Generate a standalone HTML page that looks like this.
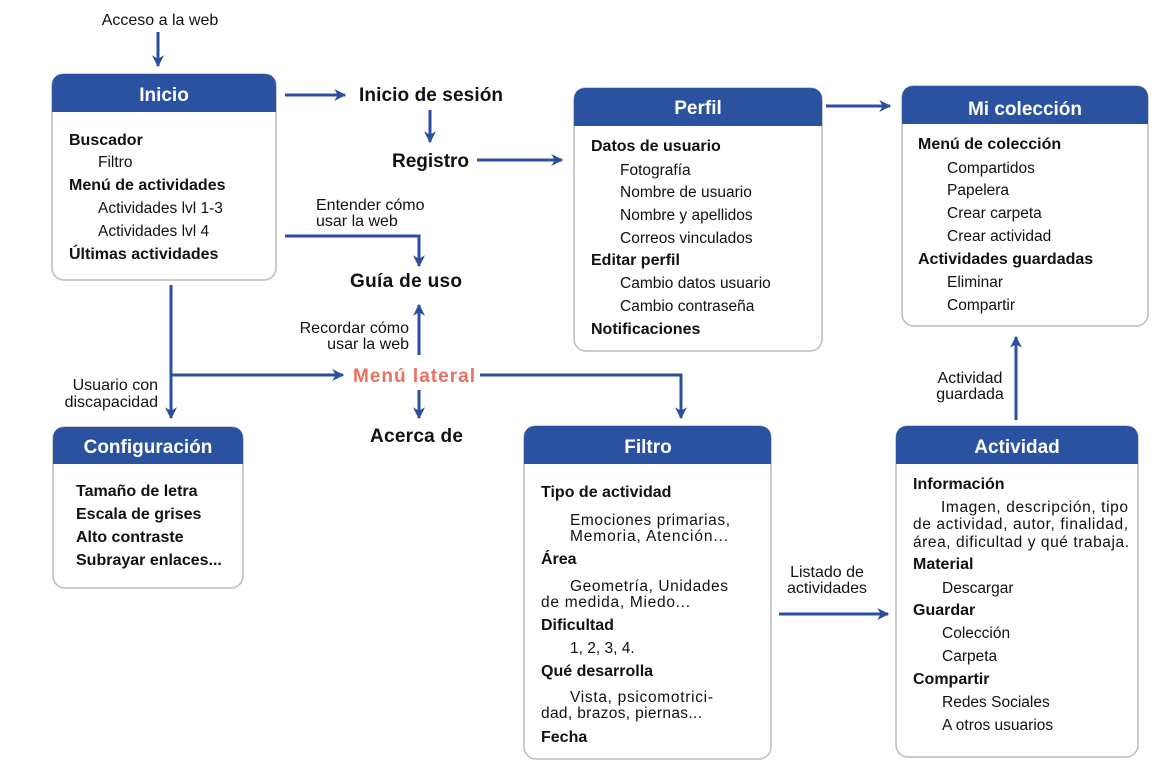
<!DOCTYPE html>
<html><head><meta charset="utf-8"><style>
html,body{margin:0;padding:0;background:#fff}
svg{display:block}
text{font-family:"Liberation Sans",sans-serif;fill:#111}
.b{font-weight:bold;font-size:16px}
.n{font-size:15.5px}
.s{font-size:16px}
.h{font-size:19px;font-weight:bold;fill:#fff}
.t{font-size:19px;font-weight:bold}
</style></head><body>
<svg width="1172" height="776" viewBox="0 0 1172 776" xmlns="http://www.w3.org/2000/svg">
<defs>
<marker id="a" viewBox="0 0 10 10" refX="9" refY="5" markerWidth="4" markerHeight="4" orient="auto"><path d="M0,0 L10,5 L0,10 L3,5 Z" fill="#2b4f9e"/></marker>
</defs>
<g fill="#fff" stroke="#bcbcbc" stroke-width="1.5">
<rect x="52" y="74" width="224" height="206" rx="12"/>
<rect x="574" y="88" width="248" height="263" rx="12"/>
<rect x="902" y="86" width="246" height="240" rx="12"/>
<rect x="53" y="427" width="190" height="161" rx="12"/>
<rect x="524" y="426" width="247" height="333" rx="12"/>
<rect x="896" y="426" width="242" height="331" rx="12"/>
</g>
<g fill="#2a52a0">
<path d="M52 86 Q52 74 64 74 H264 Q276 74 276 86 V112 H52Z"/>
<path d="M574 100 Q574 88 586 88 H810 Q822 88 822 100 V126 H574Z"/>
<path d="M902 98 Q902 86 914 86 H1136 Q1148 86 1148 98 V124 H902Z"/>
<path d="M53 439 Q53 427 65 427 H231 Q243 427 243 439 V464 H53Z"/>
<path d="M524 438 Q524 426 536 426 H759 Q771 426 771 438 V464 H524Z"/>
<path d="M896 438 Q896 426 908 426 H1126 Q1138 426 1138 438 V464 H896Z"/>
</g>
<g text-anchor="middle">
<text class="h" x="164" y="101">Inicio</text>
<text class="h" x="698" y="114">Perfil</text>
<text class="h" x="1025" y="115">Mi colección</text>
<text class="h" x="148" y="453">Configuración</text>
<text class="h" x="648" y="453">Filtro</text>
<text class="h" x="1017" y="453">Actividad</text>
</g>
<g stroke="#2b4f9e" stroke-width="3" fill="none" marker-end="url(#a)">
<path d="M158 32 V66"/>
<path d="M285 95 H345"/>
<path d="M430 110 V142"/>
<path d="M477 160 H562"/>
<path d="M826 106 H890"/>
<path d="M285 236 H419 V266"/>
<path d="M419 355 V305"/>
<path d="M419 390 V418"/>
<path d="M171 285 V418"/>
<path d="M171 375 H343"/>
<path d="M480 375 H681 V418"/>
<path d="M779 614 H888"/>
<path d="M1016 420 V337"/>
</g>
<text class="s" x="160" y="25" text-anchor="middle">Acceso a la web</text>
<text class="t" x="359" y="101" textLength="144">Inicio de sesión</text>
<text class="t" x="392" y="167" textLength="77">Registro</text>
<text class="s" x="316" y="210">Entender cómo</text>
<text class="s" x="316" y="226">usar la web</text>
<text class="t" x="350" y="287" textLength="112">Guía de uso</text>
<text class="s" x="409" y="333" text-anchor="end">Recordar cómo</text>
<text class="s" x="409" y="349" text-anchor="end">usar la web</text>
<text class="t" x="353" y="382" textLength="122" style="fill:#ec6f5f">Menú lateral</text>
<text class="t" x="370" y="442" textLength="93">Acerca de</text>
<text class="s" x="158" y="390" text-anchor="end">Usuario con</text>
<text class="s" x="158" y="407" text-anchor="end">discapacidad</text>
<text class="s" x="827" y="577" text-anchor="middle">Listado de</text>
<text class="s" x="827" y="593" text-anchor="middle">actividades</text>
<text class="s" x="970" y="383" text-anchor="middle">Actividad</text>
<text class="s" x="970" y="399" text-anchor="middle">guardada</text>
<text class="b" x="69" y="145">Buscador</text>
<text class="n" x="98" y="167">Filtro</text>
<text class="b" x="69" y="190">Menú de actividades</text>
<text class="n" x="98" y="213">Actividades lvl 1-3</text>
<text class="n" x="98" y="236">Actividades lvl 4</text>
<text class="b" x="69" y="259">Últimas actividades</text>
<text class="b" x="591" y="151">Datos de usuario</text>
<text class="n" x="620" y="175">Fotografía</text>
<text class="n" x="620" y="197">Nombre de usuario</text>
<text class="n" x="620" y="220">Nombre y apellidos</text>
<text class="n" x="620" y="243">Correos vinculados</text>
<text class="b" x="591" y="265">Editar perfil</text>
<text class="n" x="620" y="288">Cambio datos usuario</text>
<text class="n" x="620" y="311">Cambio contraseña</text>
<text class="b" x="591" y="334">Notificaciones</text>
<text class="b" x="918" y="149">Menú de colección</text>
<text class="n" x="947" y="173">Compartidos</text>
<text class="n" x="947" y="195">Papelera</text>
<text class="n" x="947" y="218">Crear carpeta</text>
<text class="n" x="947" y="241">Crear actividad</text>
<text class="b" x="918" y="264">Actividades guardadas</text>
<text class="n" x="947" y="287">Eliminar</text>
<text class="n" x="947" y="310">Compartir</text>
<text class="b" x="76" y="496">Tamaño de letra</text>
<text class="b" x="76" y="519">Escala de grises</text>
<text class="b" x="76" y="542">Alto contraste</text>
<text class="b" x="76" y="565">Subrayar enlaces...</text>
<text class="b" x="541" y="497">Tipo de actividad</text>
<text class="n" x="570" y="525" textLength="160">Emociones primarias,</text>
<text class="n" x="570" y="541" textLength="158">Memoria, Atención...</text>
<text class="b" x="541" y="564">Área</text>
<text class="n" x="570" y="591" textLength="158">Geometría, Unidades</text>
<text class="n" x="541" y="607" textLength="149">de medida, Miedo...</text>
<text class="b" x="541" y="630">Dificultad</text>
<text class="n" x="570" y="653">1, 2, 3, 4.</text>
<text class="b" x="541" y="676">Qué desarrolla</text>
<text class="n" x="570" y="702" textLength="143">Vista, psicomotrici-</text>
<text class="n" x="541" y="718" textLength="161">dad, brazos, piernas...</text>
<text class="b" x="541" y="742">Fecha</text>
<text class="b" x="913" y="489">Información</text>
<text class="n" x="941" y="512" textLength="187">Imagen, descripción, tipo</text>
<text class="n" x="913" y="529" textLength="215">de actividad, autor, finalidad,</text>
<text class="n" x="913" y="547" textLength="216">área, dificultad y qué trabaja.</text>
<text class="b" x="913" y="569">Material</text>
<text class="n" x="942" y="593">Descargar</text>
<text class="b" x="913" y="615">Guardar</text>
<text class="n" x="942" y="638">Colección</text>
<text class="n" x="942" y="661">Carpeta</text>
<text class="b" x="913" y="684">Compartir</text>
<text class="n" x="942" y="707">Redes Sociales</text>
<text class="n" x="942" y="730">A otros usuarios</text>
</svg>
</body></html>
